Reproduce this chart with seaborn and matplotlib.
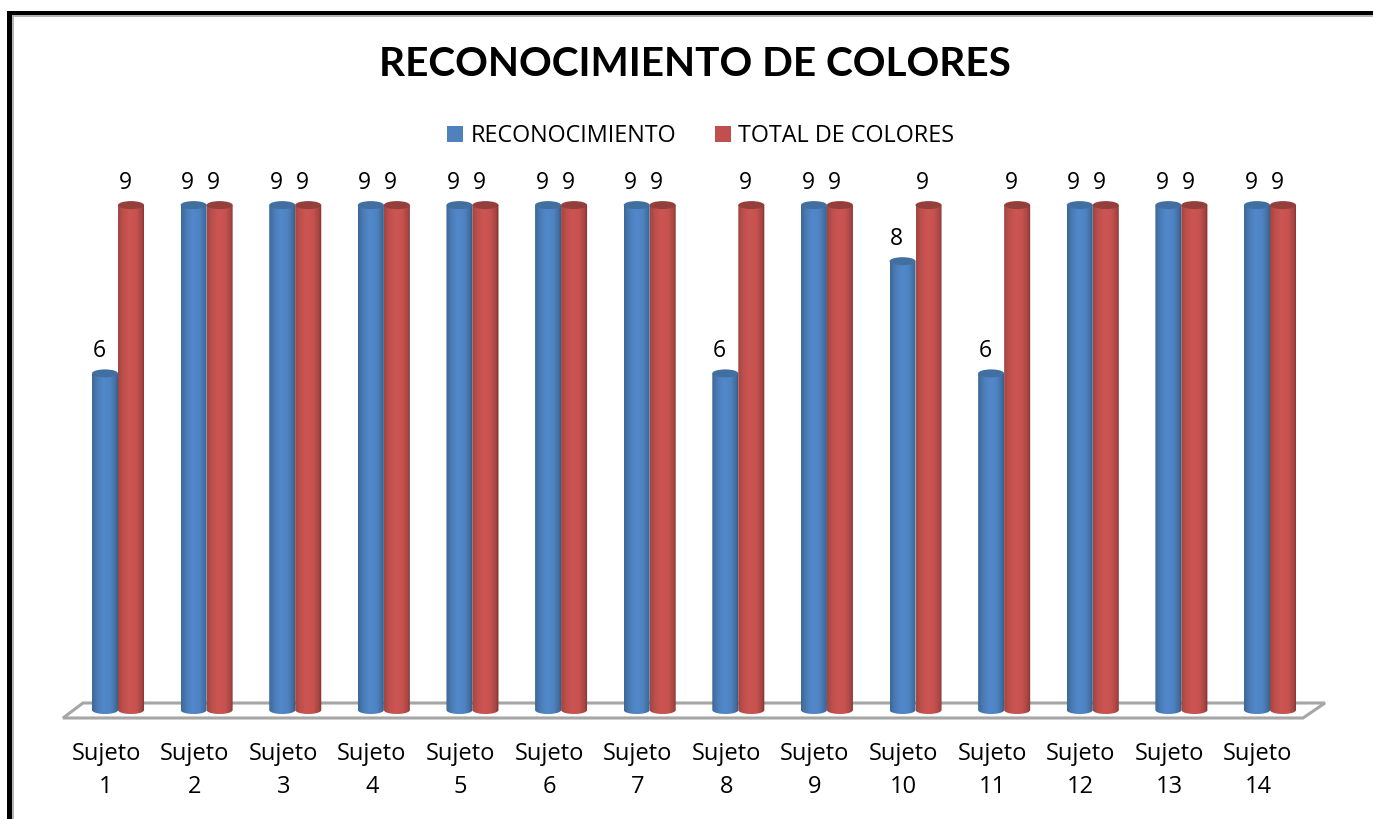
import numpy as np
import pandas as pd
import matplotlib
matplotlib.use("Agg")
import matplotlib.pyplot as plt
import seaborn as sns
from matplotlib.colors import LinearSegmentedColormap
from matplotlib.patches import Ellipse, Polygon, Rectangle, Patch
from matplotlib.transforms import ScaledTranslation

sujetos = [f"Sujeto\n{i}" for i in range(1, 15)]
reconocimiento = [6, 9, 9, 9, 9, 9, 9, 6, 9, 8, 6, 9, 9, 9]
total_colores = [9, 9, 9, 9, 9, 9, 9, 9, 9, 9, 9, 9, 9, 9]
serie_a = "RECONOCIMIENTO"
serie_b = "TOTAL DE COLORES"
titulo = "RECONOCIMIENTO DE COLORES"

W, H = 1373, 819
sns.set_theme(style="white")
plt.rcParams["font.family"] = ["Open Sans", "DejaVu Sans"]

df = pd.DataFrame({
    "sujeto": sujetos * 2,
    "serie": [serie_a] * 14 + [serie_b] * 14,
    "valor": reconocimiento + total_colores,
})

fig = plt.figure(figsize=(W / 100, H / 100), dpi=100, facecolor="white")
# axes box in pixels
left, right, top, bottom = 73.7, 1314.3, 150.0, 730.0
ax = fig.add_axes([left / W, 1 - bottom / H, (right - left) / W, (bottom - top) / H])
base_px, unit_px = 710.0, 56.1

sns.barplot(data=df, x="sujeto", y="valor", hue="serie", order=sujetos,
            hue_order=[serie_a, serie_b], palette=["#4F81BD", "#C0504D"],
            width=0.587, gap=0, legend=False, saturation=1, ax=ax)

ymax = (base_px - top) / unit_px
ymin = (base_px - bottom) / unit_px
xlim = (-0.5, 13.5)

stops = [0.0, 0.18, 0.42, 0.68, 0.88, 1.0]
cmaps = [
    LinearSegmentedColormap.from_list("b", list(zip(stops, ["#3D6898", "#4A7BB4", "#5288CB", "#4F84C4", "#436FA3", "#33577F"]))),
    LinearSegmentedColormap.from_list("r", list(zip(stops, ["#A04643", "#BD4F4C", "#CC5553", "#C75250", "#A84643", "#7E3230"]))),
]
cap_cols = ["#416F9F", "#953F3D"]
ell_h = 8.0 / unit_px

for c_i, cont in enumerate(ax.containers):
    for rect in cont:
        x0, w, h = rect.get_x(), rect.get_width(), rect.get_height()
        rect.set_visible(False)
        z = 3 + c_i
        t = np.linspace(np.pi, 2 * np.pi, 40)
        xs = x0 + w / 2 + w / 2 * np.cos(t)
        ys = ell_h / 2 * np.sin(t)
        outline = list(zip(xs, ys)) + [(x0 + w, h), (x0, h)]
        clip = Polygon(outline, closed=True, transform=ax.transData, fc="none", ec="none")
        ax.add_patch(clip)
        img = ax.imshow(np.linspace(0, 1, 64)[None, :], cmap=cmaps[c_i], aspect="auto",
                        extent=(x0, x0 + w, -ell_h, h), zorder=z, interpolation="bilinear")
        img.set_clip_path(clip)
        ax.add_patch(Ellipse((x0 + w / 2, h), w, ell_h, fc=cap_cols[c_i], ec="none", zorder=z + 0.1))
        ax.annotate(f"{h:.0f}", (x0 + w / 2, h), xytext=(-6 / 1.389, 22 / 1.389),
                    textcoords="offset points", ha="center", va="center",
                    fontsize=16.5, color="black", zorder=8)

ax.set_xlim(*xlim)
ax.set_ylim(ymin, ymax)
ax.set_xlabel("")
ax.set_ylabel("")
ax.set_yticks([])
ax.patch.set_alpha(0)
for s in ax.spines.values():
    s.set_visible(False)
ax.tick_params(axis="x", length=0, pad=8.5, labelsize=17, labelcolor="black")
shift = ScaledTranslation(-12 / 100, 0, fig.dpi_scale_trans)
for lab in ax.get_xticklabels():
    lab.set_transform(lab.get_transform() + shift)
    lab.set_linespacing(1.5)


def px(x, y):
    return (x / W, 1 - y / H)


# floor of the 3D plot
floor = Polygon([px(63, 718), px(83, 703), px(1325, 703), px(1303, 718)], closed=True,
                transform=fig.transFigure, fc="white", ec="#A6A6A6", lw=2.2, zorder=1)
ax.add_patch(floor)
floor.set_clip_on(False)

# outer frame: left and top only
fig.add_artist(Rectangle(px(12, 819), 2 / W, (819 - 15) / H, transform=fig.transFigure, fc="#B5B5B5", ec="none"))
fig.add_artist(Rectangle(px(12, 17), (W - 12) / W, 2 / H, transform=fig.transFigure, fc="#B5B5B5", ec="none"))
fig.add_artist(Rectangle(px(7, 819), 5 / W, (819 - 11) / H, transform=fig.transFigure, fc="black", ec="none"))
fig.add_artist(Rectangle(px(7, 15), (W - 7) / W, 4 / H, transform=fig.transFigure, fc="black", ec="none"))

fig.text(*px(695, 65), titulo, ha="center", va="center", fontsize=29.2, fontweight="bold",
         family=["Lato", "DejaVu Sans"], color="black")

handles = [Patch(fc="#4F81BD", ec="none"), Patch(fc="#C0504D", ec="none")]
fig.legend(handles, [serie_a, serie_b], loc="center", bbox_to_anchor=px(700.5, 136), ncol=2,
           frameon=False, fontsize=16.8, handlelength=0.7, handleheight=0.7,
           handletextpad=0.3, columnspacing=1.65, labelcolor="black")

fig.savefig("out.png", dpi=100)
